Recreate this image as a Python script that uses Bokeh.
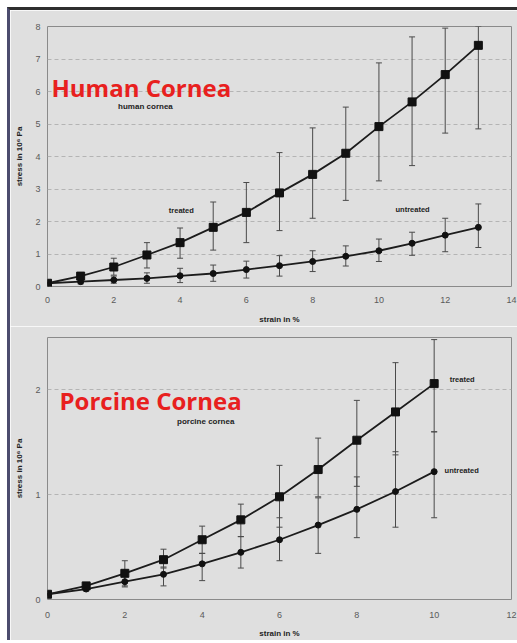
from bokeh.plotting import figure
from bokeh.models import ColumnDataSource, Whisker, TeeHead, Label, FixedTicker, InlineStyleSheet
from bokeh.layouts import column
from bokeh.embed import file_html
from bokeh.resources import INLINE

# ---------------- data: human cornea ----------------
strain_h = [0, 1, 2, 3, 4, 5, 6, 7, 8, 9, 10, 11, 12, 13]
treated_h = [0.1, 0.32, 0.6, 0.97, 1.35, 1.82, 2.28, 2.88, 3.45, 4.1, 4.92, 5.68, 6.52, 7.42]
treated_h_hi = [0.15, 0.42, 0.87, 1.35, 1.8, 2.6, 3.2, 4.12, 4.88, 5.52, 6.88, 7.68, 7.95, 8.0]
treated_h_lo = [0.05, 0.22, 0.35, 0.57, 0.87, 1.12, 1.35, 1.72, 2.1, 2.65, 3.25, 3.72, 4.72, 4.85]
untreated_h = [0.1, 0.15, 0.2, 0.25, 0.33, 0.4, 0.52, 0.64, 0.77, 0.93, 1.1, 1.33, 1.58, 1.82]
untreated_h_hi = [0.12, 0.22, 0.32, 0.42, 0.56, 0.66, 0.78, 0.95, 1.1, 1.25, 1.46, 1.67, 2.1, 2.54]
untreated_h_lo = [0.08, 0.08, 0.1, 0.1, 0.12, 0.16, 0.26, 0.32, 0.46, 0.63, 0.77, 0.96, 1.07, 1.2]

# ---------------- data: porcine cornea ----------------
strain_p = [0, 1, 2, 3, 4, 5, 6, 7, 8, 9, 10]
treated_p = [0.05, 0.13, 0.25, 0.38, 0.57, 0.76, 0.98, 1.24, 1.52, 1.79, 2.06]
treated_p_hi = [0.06, 0.15, 0.37, 0.48, 0.7, 0.91, 1.28, 1.54, 1.9, 2.26, 2.48]
treated_p_lo = [0.04, 0.11, 0.13, 0.3, 0.44, 0.6, 0.69, 0.98, 1.08, 1.38, 1.6]
untreated_p = [0.05, 0.1, 0.17, 0.24, 0.34, 0.45, 0.57, 0.71, 0.86, 1.03, 1.22]
untreated_p_hi = [0.06, 0.12, 0.22, 0.31, 0.44, 0.6, 0.78, 0.97, 1.17, 1.41, 1.6]
untreated_p_lo = [0.04, 0.08, 0.12, 0.13, 0.18, 0.3, 0.37, 0.44, 0.59, 0.69, 0.78]

x_ticks_h = [0, 2, 4, 6, 8, 10, 12, 14]
y_ticks_h = [0, 1, 2, 3, 4, 5, 6, 7, 8]
x_ticks_p = [0, 2, 4, 6, 8, 10, 12]
y_ticks_p = [0, 1, 2]

BG = "#dfdfdf"
LINE = "#1c1c1c"
ERR = "#4a4a4a"
FONT = "Liberation Sans"
W = 507


def style(p, xt, yt):
    p.background_fill_color = BG
    p.border_fill_color = BG
    p.outline_line_color = "#8a8a8a"
    p.outline_line_width = 1
    p.xgrid.grid_line_color = None
    p.ygrid.grid_line_color = "#b4b4b4"
    p.ygrid.grid_line_dash = "4 3"
    p.ygrid.grid_line_width = 1
    p.xaxis.ticker = FixedTicker(ticks=xt)
    p.yaxis.ticker = FixedTicker(ticks=yt)
    for ax in (p.xaxis, p.yaxis):
        ax.axis_line_color = None
        ax.major_tick_line_color = None
        ax.minor_tick_line_color = None
        ax.major_tick_out = 0
        ax.major_tick_in = 0
        ax.major_label_text_font = FONT
        ax.major_label_text_font_size = "9px"
        ax.major_label_text_color = "#5a5a5a"
        ax.axis_label_text_font = FONT
        ax.axis_label_text_font_size = "8px"
        ax.axis_label_text_font_style = "bold"
        ax.axis_label_text_color = "#222222"
    p.yaxis.major_label_standoff = 7
    p.yaxis.axis_label_standoff = 8


def add_series(p, x, y, lo, hi, marker, size):
    src = ColumnDataSource(dict(x=x, y=y, lo=lo, hi=hi))
    w = Whisker(source=src, base="x", upper="hi", lower="lo",
                line_color=ERR, line_width=1,
                upper_head=TeeHead(size=6, line_color=ERR, line_width=1),
                lower_head=TeeHead(size=6, line_color=ERR, line_width=1))
    p.add_layout(w)
    p.line("x", "y", source=src, line_color=LINE, line_width=1.8)
    p.scatter("x", "y", source=src, marker=marker, size=size,
              fill_color="#111111", line_color="#111111")


def txt(p, x, y, text, size, color="#222222", bold=True, font=FONT, baseline="middle"):
    p.add_layout(Label(x=x, y=y, text=text, text_font=font,
                       text_font_size=size, text_color=color,
                       text_font_style="bold" if bold else "normal",
                       text_baseline=baseline))


# ---------------- top panel ----------------
H1 = 316
p1 = figure(width=W, height=H1, x_range=(0, 14), y_range=(0, 8),
            output_backend="svg", toolbar_location=None,
            min_border_left=35, min_border_right=6,
            min_border_top=16, min_border_bottom=39)
style(p1, x_ticks_h, y_ticks_h)
p1.xaxis.axis_label = "strain in %"
p1.yaxis.axis_label = "stress in 10\u2076 Pa"
p1.xaxis.major_label_standoff = 10
p1.xaxis.axis_label_standoff = 9
add_series(p1, strain_h, untreated_h, untreated_h_lo, untreated_h_hi, "circle", 6)
add_series(p1, strain_h, treated_h, treated_h_lo, treated_h_hi, "square", 8)
txt(p1, 0.12, 6.12, "Human Cornea", "24px", color="#e8201e", font="Open Sans", baseline="alphabetic")
txt(p1, 2.13, 5.53, "human cornea", "8px")
txt(p1, 3.66, 2.35, "treated", "7.5px")
txt(p1, 10.5, 2.38, "untreated", "7.5px")

# ---------------- bottom panel ----------------
H2 = 314
p2 = figure(width=W, height=H2, x_range=(0, 12), y_range=(0, 2.5),
            output_backend="svg", toolbar_location=None,
            min_border_left=37, min_border_right=5,
            min_border_top=11, min_border_bottom=41)
style(p2, x_ticks_p, y_ticks_p)
p2.xaxis.axis_label = "strain in %"
p2.yaxis.axis_label = "stress in 10\u2076 Pa"
p2.xaxis.major_label_standoff = 12
p2.xaxis.axis_label_standoff = 8
add_series(p2, strain_p, untreated_p, untreated_p_lo, untreated_p_hi, "circle", 6)
add_series(p2, strain_p, treated_p, treated_p_lo, treated_p_hi, "square", 8)
txt(p2, 0.31, 1.9, "Porcine Cornea", "24px", color="#e8201e", font="Open Sans", baseline="alphabetic")
txt(p2, 3.35, 1.70, "porcine cornea", "8px")
txt(p2, 10.4, 2.1, "treated", "7.5px")
txt(p2, 10.27, 1.23, "untreated", "7.5px")

edge = InlineStyleSheet(css=":host { border-top: 3px solid #2e2e2e; "
                            "border-left: 3px solid #4c4c6e; "
                            "margin-top: 7px; margin-left: 7px; }")
layout = column(p1, p2, spacing=0, stylesheets=[edge])

open("out.html", "w").write(file_html(layout, INLINE))
